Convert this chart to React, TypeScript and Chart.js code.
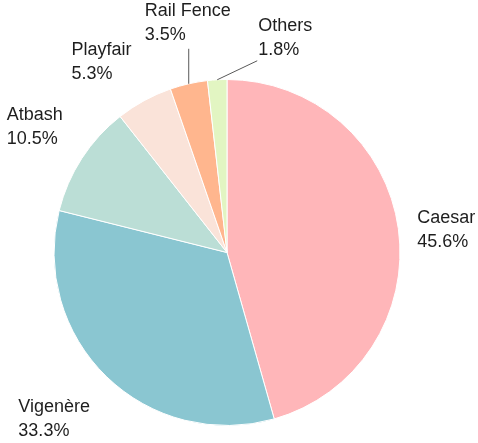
import React, { useEffect, useRef } from "react";
import { Chart, registerables } from "chart.js";

Chart.register(...registerables);

const categories = ["Caesar", "Vigenère", "Atbash", "Playfair", "Rail Fence", "Others"];
const shares = [45.6, 33.3, 10.5, 5.3, 3.5, 1.8];
const percentLabels = ["45.6%", "33.3%", "10.5%", "5.3%", "3.5%", "1.8%"];
const sliceColors = ["#FFB6B9", "#8AC6D1", "#BBDED6", "#FAE3D9", "#FFB68E", "#E2F5C2"];

type LabelLayout = {
  gap: number;
  align: "left" | "right" | "center";
  vAlign: "top" | "middle" | "bottom";
  dx: number;
  dy: number;
  leader?: { dx: number; dy: number };
};

const labelLayout: LabelLayout[] = [
  { gap: 18, align: "left", vAlign: "middle", dx: 1, dy: 4 },
  { gap: 18, align: "right", vAlign: "top", dx: -4, dy: 5 },
  { gap: 18, align: "right", vAlign: "bottom", dx: -4, dy: 2 },
  { gap: 18, align: "right", vAlign: "bottom", dx: -4, dy: 1 },
  { gap: 0, align: "center", vAlign: "bottom", dx: -1, dy: -2, leader: { dx: 0, dy: -35 } },
  { gap: 0, align: "left", vAlign: "bottom", dx: 1, dy: 1, leader: { dx: 40, dy: -19 } },
];

const FONT = '18px "Liberation Sans", Arial, sans-serif';
const LINE_H = 24;

const labelPlugin = {
  id: "outsideLabels",
  afterDatasetsDraw(chart: any) {
    const ctx = chart.ctx as CanvasRenderingContext2D;
    const meta = chart.getDatasetMeta(0);
    ctx.save();
    ctx.font = FONT;
    meta.data.forEach((arc: any, i: number) => {
      const { x, y, startAngle, endAngle, outerRadius } = arc.getProps(
        ["x", "y", "startAngle", "endAngle", "outerRadius"],
        true
      );
      const mid = (startAngle + endAngle) / 2;
      const lay = labelLayout[i];
      let ax: number;
      let ay: number;
      if (lay.leader) {
        const ex = x + Math.cos(mid) * outerRadius;
        const ey = y + Math.sin(mid) * outerRadius;
        ax = ex + lay.leader.dx;
        ay = ey + lay.leader.dy;
        ctx.strokeStyle = "#595959";
        ctx.lineWidth = 1;
        ctx.beginPath();
        ctx.moveTo(ex, ey);
        ctx.lineTo(ax, ay);
        ctx.stroke();
      } else {
        const d = outerRadius + lay.gap;
        ax = x + Math.cos(mid) * d;
        ay = y + Math.sin(mid) * d;
      }
      ax += lay.dx;
      ay += lay.dy;
      const lines = [categories[i], percentLabels[i]];
      const blockW = Math.max(...lines.map((t) => ctx.measureText(t).width));
      const blockH = lines.length * LINE_H;
      let left = ax;
      if (lay.align === "right") left = ax - blockW;
      if (lay.align === "center") left = ax - blockW / 2;
      let top = ay - blockH / 2;
      if (lay.vAlign === "top") top = ay;
      if (lay.vAlign === "bottom") top = ay - blockH;
      ctx.fillStyle = "#1e1e1e";
      ctx.textAlign = "left";
      ctx.textBaseline = "middle";
      lines.forEach((t, k) => {
        ctx.fillText(t, left, top + LINE_H * k + LINE_H / 2);
      });
    });
    ctx.restore();
  },
};

export default function App() {
  const ref = useRef<HTMLCanvasElement | null>(null);
  useEffect(() => {
    if (!ref.current) return;
    const chart = new Chart(ref.current, {
      type: "pie",
      data: {
        labels: categories,
        datasets: [
          {
            data: shares,
            backgroundColor: sliceColors,
            borderColor: "#ffffff",
            borderWidth: 1,
          },
        ],
      },
      options: {
        animation: false,
        responsive: false,
        maintainAspectRatio: false,
        layout: { padding: { left: 53, right: 77, top: 79, bottom: 17 } },
        plugins: {
          legend: { display: false },
          tooltip: { enabled: false },
        },
      },
      plugins: [labelPlugin],
    });
    return () => chart.destroy();
  }, []);
  return (
    <div style={{ position: "fixed", left: 0, top: 0, width: 478, height: 443, background: "#fff" }}>
      <canvas ref={ref} width={478} height={443} style={{ display: "block" }} />
    </div>
  );
}
